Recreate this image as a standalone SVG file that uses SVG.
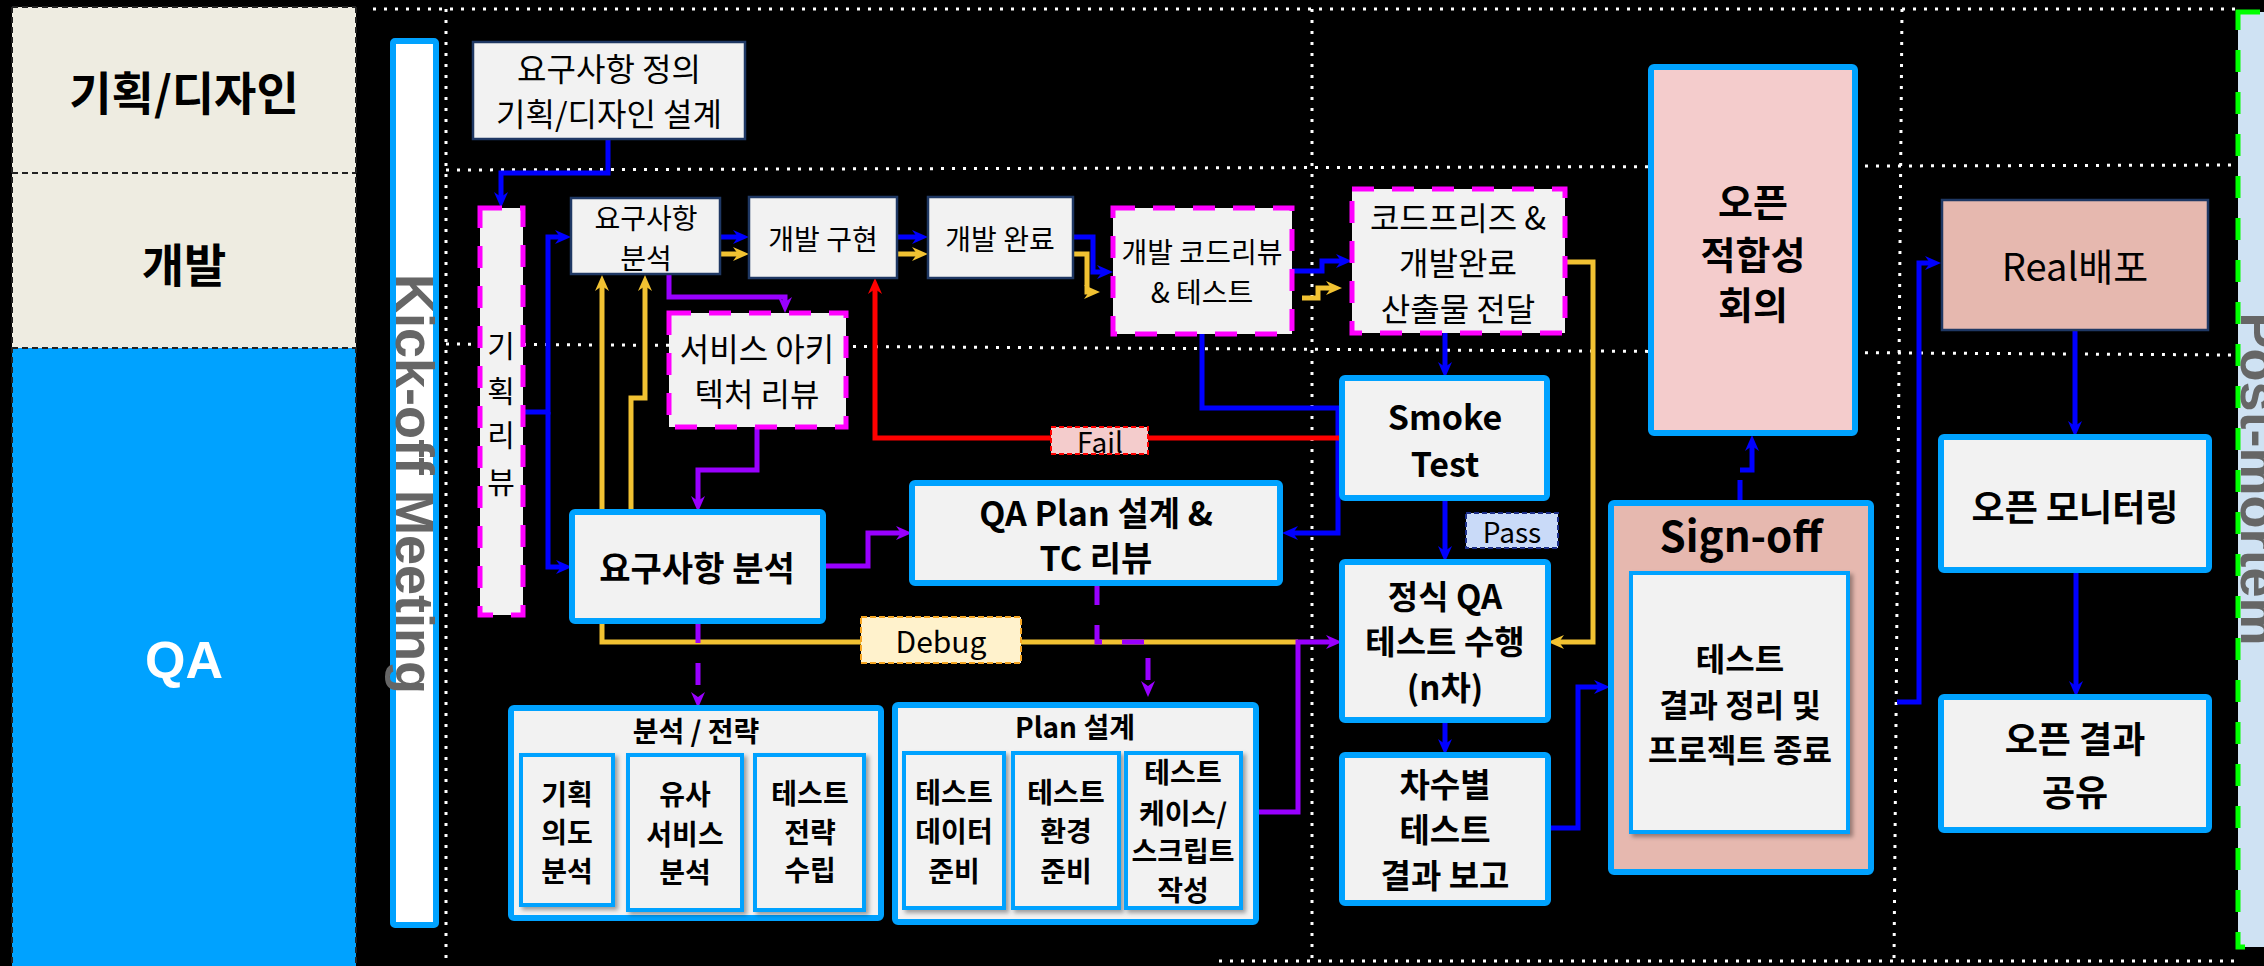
<svg xmlns="http://www.w3.org/2000/svg" width="2264" height="966" viewBox="0 0 2264 966">
<defs>
<style>
.t{font-family:"Noto Sans CJK KR","Noto Sans",sans-serif;fill:#000;text-anchor:middle;dominant-baseline:central}
.b{font-weight:700}
.dot{stroke:#fff;stroke-width:3;stroke-dasharray:3 8;fill:none}
.thin{fill:#F2F2F2;stroke:#1F3864;stroke-width:2.5}
.mag{fill:#F2F2F2;stroke:#FF00FF;stroke-width:5;stroke-dasharray:22 18}
.qa{fill:#F2F2F2;stroke:#00A2FF;stroke-width:6}
.sub{fill:#F2F2F2;stroke:#00A2FF;stroke-width:4;filter:url(#sh)}
.cb{fill:none;stroke:#0000FF;stroke-width:5;marker-end:url(#ab)}
.cy{fill:none;stroke:#F1C232;stroke-width:5;marker-end:url(#ay)}
.cp{fill:none;stroke:#9900FF;stroke-width:5;marker-end:url(#ap)}
.cr{fill:none;stroke:#FF0000;stroke-width:5;marker-end:url(#ar)}
.side{font-family:"Liberation Sans",Arial,sans-serif;font-weight:700;font-size:54px;fill:#666;text-anchor:middle}
</style>
<marker id="ab" viewBox="0 0 16 16" refX="6" refY="8" markerWidth="16" markerHeight="16" markerUnits="userSpaceOnUse" orient="auto"><path d="M0,1 L16,8 L0,15 L5,8 Z" fill="#0000FF"/></marker>
<marker id="ay" viewBox="0 0 16 16" refX="6" refY="8" markerWidth="16" markerHeight="16" markerUnits="userSpaceOnUse" orient="auto"><path d="M0,1 L16,8 L0,15 L5,8 Z" fill="#F1C232"/></marker>
<marker id="ap" viewBox="0 0 16 16" refX="6" refY="8" markerWidth="16" markerHeight="16" markerUnits="userSpaceOnUse" orient="auto"><path d="M0,1 L16,8 L0,15 L5,8 Z" fill="#9900FF"/></marker>
<marker id="ar" viewBox="0 0 16 16" refX="6" refY="8" markerWidth="16" markerHeight="16" markerUnits="userSpaceOnUse" orient="auto"><path d="M0,1 L16,8 L0,15 L5,8 Z" fill="#FF0000"/></marker>
<filter id="sh" x="-10%" y="-10%" width="130%" height="130%"><feDropShadow dx="3" dy="3" stdDeviation="2" flood-color="#000" flood-opacity="0.35"/></filter>
</defs>
<rect x="0" y="0" width="2264" height="966" fill="#000"/>

<g id="lanes">
<rect x="12" y="7" width="344" height="341" fill="#EEECE1"/>
<rect x="12" y="348" width="344" height="625" fill="#00A2FF"/>
<path d="M12,173 H356 M12,348 H356 M12,7 H356 M12,7 V966 M356,7 V966" stroke="#222" stroke-width="2" stroke-dasharray="6 4" fill="none"/>
<text class="t b" x="184" y="90" font-size="46">기획/디자인</text>
<text class="t b" x="184" y="262" font-size="46">개발</text>
<text x="184" y="678" font-family="Liberation Sans,Arial,sans-serif" font-weight="700" font-size="52" fill="#fff" text-anchor="middle">QA</text>
</g>

<g id="grid">
<line class="dot" x1="373" y1="9" x2="2236" y2="9"/>
<line class="dot" x1="446" y1="170" x2="2236" y2="165"/>
<line class="dot" x1="446" y1="344" x2="2236" y2="355"/>
<line class="dot" x1="1219" y1="961" x2="2236" y2="961"/>
<line class="dot" x1="446" y1="9" x2="446" y2="966"/>
<line class="dot" x1="1312" y1="9" x2="1312" y2="961"/>
<line class="dot" x1="1902" y1="9" x2="1894" y2="961"/>
</g>

<g id="kickoff">
<rect x="393" y="41" width="43" height="884" fill="#fff" stroke="#00A2FF" stroke-width="6" rx="2"/>
<text class="side" transform="translate(396,484) rotate(90)">Kick-off Meeting</text>
</g>

<g id="postmortem">
<rect x="2238" y="12" width="40" height="935" fill="#CFE2F3" stroke="#00FF00" stroke-width="5" stroke-dasharray="22 20"/>
<text class="side" transform="translate(2241,479) rotate(90)">Post-mortem</text>
</g>

<g id="connectors">
<path class="cy" d="M720,254 H739"/>
<path class="cy" d="M897,254 H918"/>
<path class="cy" d="M1073,254 H1087 V292 H1090"/>
<path class="cy" d="M1302,298 H1318 V288 H1332"/>
<path class="cy" d="M1565,262 H1593 V642 H1558"/>
<path class="cy" d="M1298,642 H602 V285"/>
<path class="cy" d="M631,600 V398 H645 V285"/>
<path class="cb" d="M608,139 V173 H501 V198"/>
<path class="cb" d="M523,412 H548 V237 H561"/>
<path class="cb" d="M548,412 V567 H562"/>
<path class="cb" d="M720,237 H739"/>
<path class="cb" d="M897,237 H918"/>
<path class="cb" d="M1073,237 H1093 V272 H1103"/>
<path class="cb" d="M1292,271 H1322 V261 H1342"/>
<path class="cb" d="M1445,333 V368"/>
<path class="cb" d="M1202,334 V408 H1338 V533 H1292"/>
<path class="cb" d="M1445,498 V552"/>
<path class="cb" d="M1445,720 V745"/>
<path class="cb" d="M1548,828 H1578 V687 H1600"/>
<path class="cb" d="M1740,503 V470 H1752 V445" stroke-dasharray="23 10 40 10"/>
<path class="cb" d="M1897,702 H1919 V263 H1931"/>
<path class="cb" d="M2075,330 V427"/>
<path class="cb" d="M2076,570 V687"/>
<path class="cr" d="M1342,438 H875 V288"/>
<path class="cp" d="M669,274 V297 H785 V303"/>
<path class="cp" d="M757,427 V470 H698 V502"/>
<path class="cp" d="M823,566 H868 V533 H902"/>
<path class="cp" d="M698,621 V698" stroke-dasharray="22 20"/>
<path class="cp" d="M1097,583 V642 H1148 V687" stroke-dasharray="22 20"/>
<path class="cp" d="M1256,812 H1298 V642 H1332"/>
</g>

<g id="req-def">
<rect class="thin" x="473" y="42" width="272" height="97"/>
<text class="t" x="609" y="67" font-size="32">요구사항 정의</text>
<text class="t" x="609" y="112" font-size="32">기획/디자인 설계</text>
</g>

<g id="plan-review">
<rect class="mag" x="480" y="208" width="43" height="407"/>
<text class="t" x="501" y="344" font-size="30">기</text>
<text class="t" x="501" y="389" font-size="30">획</text>
<text class="t" x="501" y="433" font-size="30">리</text>
<text class="t" x="501" y="480" font-size="30">뷰</text>
</g>

<g id="dev-req">
<rect class="thin" x="571" y="198" width="149" height="76"/>
<text class="t" x="646" y="217" font-size="28">요구사항</text>
<text class="t" x="646" y="257" font-size="28">분석</text>
</g>

<g id="dev-impl">
<rect class="thin" x="749" y="197" width="148" height="81"/>
<text class="t" x="823" y="238" font-size="28">개발 구현</text>
</g>

<g id="dev-done">
<rect class="thin" x="928" y="197" width="145" height="81"/>
<text class="t" x="1000" y="238" font-size="28">개발 완료</text>
</g>

<g id="arch-review">
<rect class="mag" x="669" y="313" width="177" height="114"/>
<text class="t" x="757" y="347" font-size="32">서비스 아키</text>
<text class="t" x="757" y="392" font-size="32">텍처 리뷰</text>
</g>

<g id="code-review">
<rect class="mag" x="1113" y="208" width="179" height="126"/>
<text class="t" x="1202" y="251" font-size="28">개발 코드리뷰</text>
<text class="t" x="1202" y="291" font-size="28">&amp; 테스트</text>
</g>

<g id="code-freeze">
<rect class="mag" x="1352" y="189" width="213" height="144"/>
<text class="t" x="1458" y="216" font-size="32">코드프리즈 &amp;</text>
<text class="t" x="1458" y="261" font-size="32">개발완료</text>
<text class="t" x="1458" y="307" font-size="32">산출물 전달</text>
</g>

<g id="smoke">
<rect class="qa" x="1342" y="378" width="205" height="120" rx="3"/>
<text class="t b" x="1445" y="415" font-size="34">Smoke</text>
<text class="t b" x="1445" y="462" font-size="34">Test</text>
</g>

<g id="qa-req">
<rect class="qa" x="572" y="512" width="251" height="109" rx="3"/>
<text class="t b" x="697" y="566" font-size="34">요구사항 분석</text>
</g>

<g id="qa-plan">
<rect class="qa" x="912" y="483" width="368" height="100" rx="3"/>
<text class="t b" x="1096" y="511" font-size="34">QA Plan 설계 &amp;</text>
<text class="t b" x="1096" y="556" font-size="34">TC 리뷰</text>
</g>

<g id="formal-qa">
<rect class="qa" x="1342" y="562" width="206" height="158" rx="3"/>
<text class="t b" x="1445" y="595" font-size="33">정식 QA</text>
<text class="t b" x="1445" y="640" font-size="33">테스트 수행</text>
<text class="t b" x="1445" y="686" font-size="33">(n차)</text>
</g>

<g id="round-report">
<rect class="qa" x="1342" y="755" width="206" height="148" rx="3"/>
<text class="t b" x="1445" y="783" font-size="33">차수별</text>
<text class="t b" x="1445" y="828" font-size="33">테스트</text>
<text class="t b" x="1445" y="874" font-size="33">결과 보고</text>
</g>

<g id="analysis">
<rect class="qa" x="511" y="708" width="370" height="210" rx="3"/>
<text class="t b" x="696" y="730" font-size="28">분석 / 전략</text>
<rect class="sub" x="521" y="755" width="92" height="150"/>
<text class="t b" x="567" y="793" font-size="28">기획</text>
<text class="t b" x="567" y="831" font-size="28">의도</text>
<text class="t b" x="567" y="870" font-size="28">분석</text>
<rect class="sub" x="628" y="755" width="114" height="155"/>
<text class="t b" x="685" y="793" font-size="28">유사</text>
<text class="t b" x="685" y="833" font-size="28">서비스</text>
<text class="t b" x="685" y="871" font-size="28">분석</text>
<rect class="sub" x="755" y="755" width="109" height="155"/>
<text class="t b" x="810" y="792" font-size="28">테스트</text>
<text class="t b" x="810" y="831" font-size="28">전략</text>
<text class="t b" x="810" y="869" font-size="28">수립</text>
</g>

<g id="plan-design">
<rect class="qa" x="895" y="705" width="361" height="217" rx="3"/>
<text class="t b" x="1075" y="726" font-size="28">Plan 설계</text>
<rect class="sub" x="904" y="753" width="100" height="155"/>
<text class="t b" x="954" y="791" font-size="28">테스트</text>
<text class="t b" x="954" y="830" font-size="28">데이터</text>
<text class="t b" x="954" y="870" font-size="28">준비</text>
<rect class="sub" x="1013" y="753" width="106" height="155"/>
<text class="t b" x="1066" y="791" font-size="28">테스트</text>
<text class="t b" x="1066" y="830" font-size="28">환경</text>
<text class="t b" x="1066" y="870" font-size="28">준비</text>
<rect class="sub" x="1126" y="753" width="115" height="155"/>
<text class="t b" x="1183" y="771" font-size="28">테스트</text>
<text class="t b" x="1183" y="812" font-size="28">케이스/</text>
<text class="t b" x="1183" y="850" font-size="28">스크립트</text>
<text class="t b" x="1183" y="889" font-size="28">작성</text>
</g>

<g id="signoff">
<rect class="qa" x="1611" y="503" width="260" height="369" rx="3" style="fill:#E6B8AF"/>
<text class="t b" x="1741" y="533" font-size="42">Sign-off</text>
<rect class="sub" x="1631" y="573" width="217" height="259"/>
<text class="t b" x="1740" y="657" font-size="32">테스트</text>
<text class="t b" x="1740" y="703" font-size="32">결과 정리 및</text>
<text class="t b" x="1740" y="748" font-size="32">프로젝트 종료</text>
</g>

<g id="open-fit">
<rect class="qa" x="1651" y="67" width="204" height="366" rx="3" style="fill:#F4CCCC"/>
<text class="t b" x="1753" y="199" font-size="38">오픈</text>
<text class="t b" x="1753" y="252" font-size="38">적합성</text>
<text class="t b" x="1753" y="302" font-size="38">회의</text>
</g>

<g id="real-deploy">
<rect class="thin" x="1942" y="200" width="266" height="130" style="fill:#E6B8AF"/>
<text class="t" x="2075" y="264" font-size="38">Real배포</text>
</g>

<g id="open-monitor">
<rect class="qa" x="1941" y="437" width="268" height="133" rx="3"/>
<text class="t b" x="2075" y="505" font-size="36">오픈 모니터링</text>
</g>

<g id="open-share">
<rect class="qa" x="1941" y="697" width="268" height="133" rx="3"/>
<text class="t b" x="2075" y="737" font-size="36">오픈 결과</text>
<text class="t b" x="2075" y="790" font-size="36">공유</text>
</g>

<g id="label-fail">
<rect x="1051" y="427" width="97" height="27" fill="#F4CCCC" stroke="#FF0000" stroke-width="2" stroke-dasharray="5 3"/>
<text class="t" x="1100" y="441" font-size="28">Fail</text>
</g>

<g id="label-debug">
<rect x="861" y="617" width="160" height="46" fill="#FFF2CC" stroke="#F6A623" stroke-width="2" stroke-dasharray="6 3"/>
<text class="t" x="941" y="640" font-size="30">Debug</text>
</g>

<g id="label-pass">
<rect x="1466" y="513" width="92" height="35" fill="#C9DAF8" stroke="#1C2E87" stroke-width="2" stroke-dasharray="5 3"/>
<text class="t" x="1512" y="531" font-size="28">Pass</text>
</g>
</svg>
